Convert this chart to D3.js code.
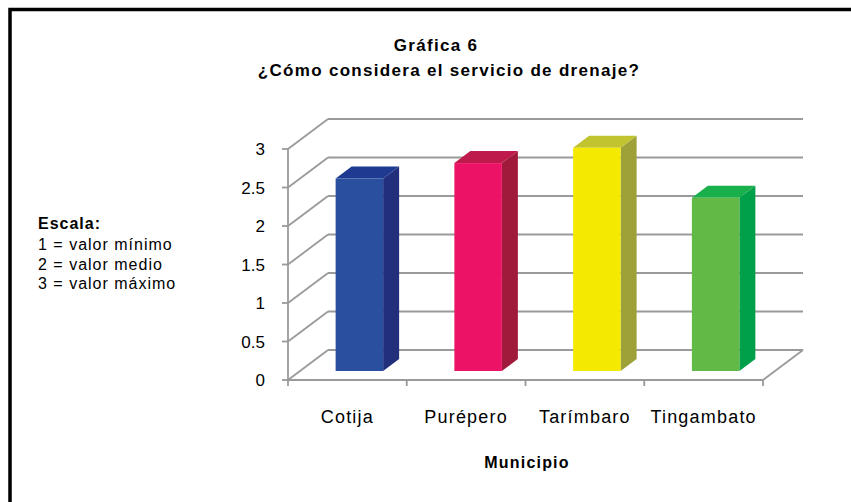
<!DOCTYPE html>
<html lang="es">
  <head>
    <meta charset="utf-8">
    <title>Gráfica 6</title>
    <script src="https://d3js.org/d3.v7.min.js"></script>
    <style>
      body { margin: 0; background: #fff; }
      text { font-family: "Liberation Sans", Arial, sans-serif; fill: #000; }
    </style>
  </head>
  <body>
    <div id="chart"></div>
    <script>
      var municipios = ["Cotija", "Purépero", "Tarímbaro", "Tingambato"],
          valores = [2.5, 2.7, 2.9, 2.25],
          yTicks = [0, 0.5, 1, 1.5, 2, 2.5, 3],
          escala = ["1 = valor mínimo", "2 = valor medio", "3 = valor máximo"];

      // front, side, top colours for each bar
      var colores = [
        ["#2b4f9f", "#222f7b", "#1f3b91"],
        ["#ec1265", "#a01a3b", "#be1a4b"],
        ["#f4e900", "#9da138", "#c1c32f"],
        ["#62b946", "#00a04a", "#19af4b"]
      ];

      var width = 851, height = 502,
          plotLeft = 288, plotRight = 763, plotBottom = 380, plotTop = 149,
          depthX = 40, depthY = -30,
          barFront = 0.3, barBack = 0.7,
          gridColor = "#9a9a9a";

      var svg = d3.select("#chart").append("svg")
                  .attr("width", width)
                  .attr("height", height);

      // frame
      svg.append("rect")
         .attr("x", 10).attr("y", 9.5)
         .attr("width", 860).attr("height", 520)
         .attr("fill", "none")
         .attr("stroke", "#000")
         .attr("stroke-width", 3.5);

      var xScale = d3.scaleBand()
                     .domain(municipios)
                     .range([plotLeft, plotRight])
                     .paddingInner(0.6)
                     .paddingOuter(0.3);

      var yScale = d3.scaleLinear()
                     .domain([0, 3])
                     .range([plotBottom, plotTop]);

      var grid = svg.append("g")
                    .attr("stroke", gridColor)
                    .attr("stroke-width", 1.8)
                    .attr("fill", "none");

      // back wall lines
      grid.selectAll("line.back")
          .data(yTicks)
          .enter().append("line")
          .attr("class", "back")
          .attr("x1", plotLeft + depthX).attr("x2", plotRight + depthX)
          .attr("y1", d => yScale(d) + depthY)
          .attr("y2", d => yScale(d) + depthY);

      // side wall lines
      grid.selectAll("line.side")
          .data(yTicks)
          .enter().append("line")
          .attr("class", "side")
          .attr("x1", plotLeft).attr("x2", plotLeft + depthX)
          .attr("y1", d => yScale(d))
          .attr("y2", d => yScale(d) + depthY);

      // floor right edge
      grid.append("line")
          .attr("x1", plotRight).attr("y1", yScale(0))
          .attr("x2", plotRight + depthX).attr("y2", yScale(0) + depthY);

      // front axes
      grid.append("line")
          .attr("x1", plotLeft).attr("x2", plotLeft)
          .attr("y1", yScale(0) + 1).attr("y2", yScale(3));
      grid.append("line")
          .attr("x1", plotLeft - 1).attr("x2", plotRight)
          .attr("y1", yScale(0)).attr("y2", yScale(0));

      grid.selectAll("line.ytick")
          .data(yTicks)
          .enter().append("line")
          .attr("class", "ytick")
          .attr("x1", plotLeft - 6).attr("x2", plotLeft)
          .attr("y1", d => yScale(d)).attr("y2", d => yScale(d));

      var xTicks = municipios.map(d => xScale(d) - xScale.step() * 0.3)
                             .concat([plotRight]);
      grid.selectAll("line.xtick")
          .data(xTicks)
          .enter().append("line")
          .attr("class", "xtick")
          .attr("x1", d => d).attr("x2", d => d)
          .attr("y1", yScale(0)).attr("y2", yScale(0) + 6);

      // bars
      var bars = svg.selectAll("g.bar")
                    .data(municipios)
                    .enter().append("g")
                    .attr("class", "bar");

      bars.each(function (d, i) {
        var g = d3.select(this),
            w = xScale.bandwidth(),
            x0 = xScale(d) + depthX * barFront,
            y0 = yScale(0) + depthY * barFront,
            yt = yScale(valores[i]) + depthY * barFront,
            ox = depthX * (barBack - barFront),
            oy = depthY * (barBack - barFront);

        g.append("polygon")
         .attr("points", [[x0 + w, y0], [x0 + w + ox, y0 + oy], [x0 + w + ox, yt + oy], [x0 + w, yt]].join(" "))
         .attr("fill", colores[i][1]);
        g.append("polygon")
         .attr("points", [[x0, yt], [x0 + w, yt], [x0 + w + ox, yt + oy], [x0 + ox, yt + oy]].join(" "))
         .attr("fill", colores[i][2]);
        g.append("rect")
         .attr("x", x0).attr("y", yt)
         .attr("width", w).attr("height", y0 - yt)
         .attr("fill", colores[i][0]);
      });

      // y tick labels
      svg.selectAll("text.ylab")
         .data(yTicks)
         .enter().append("text")
         .attr("class", "ylab")
         .attr("x", 265)
         .attr("y", d => yScale(d))
         .attr("dy", "0.36em")
         .attr("text-anchor", "end")
         .style("font-size", "17px")
         .text(d => d);

      // category labels
      svg.selectAll("text.xlab")
         .data(municipios)
         .enter().append("text")
         .attr("class", "xlab")
         .attr("x", d => xScale(d) + xScale.bandwidth() / 2)
         .attr("y", 423)
         .attr("text-anchor", "middle")
         .style("font-size", "18px")
         .style("letter-spacing", "1.2px")
         .text(d => d);

      svg.append("text")
         .attr("x", 527).attr("y", 468)
         .attr("text-anchor", "middle")
         .style("font-size", "16px")
         .style("font-weight", "bold")
         .style("letter-spacing", "1.2px")
         .text("Municipio");

      // titles
      svg.append("text")
         .attr("x", 436).attr("y", 51)
         .attr("text-anchor", "middle")
         .style("font-size", "17px")
         .style("font-weight", "bold")
         .style("letter-spacing", "1.3px")
         .text("Gráfica 6");
      svg.append("text")
         .attr("x", 449).attr("y", 76)
         .attr("text-anchor", "middle")
         .style("font-size", "17px")
         .style("font-weight", "bold")
         .style("letter-spacing", "1.3px")
         .text("¿Cómo considera el servicio de drenaje?");

      // scale legend
      svg.append("text")
         .attr("x", 38).attr("y", 229)
         .style("font-size", "16px")
         .style("font-weight", "bold")
         .style("letter-spacing", "1px")
         .text("Escala:");
      svg.selectAll("text.esc")
         .data(escala)
         .enter().append("text")
         .attr("class", "esc")
         .attr("x", 38)
         .attr("y", (d, i) => 250 + i * 19.5)
         .style("font-size", "16px")
         .style("letter-spacing", "1px")
         .text(d => d);
    </script>
  </body>
</html>
